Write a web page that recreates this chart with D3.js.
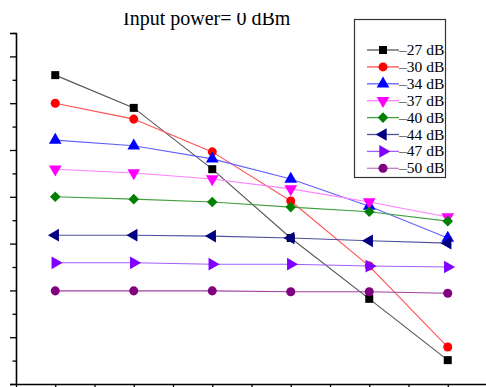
<!DOCTYPE html>
<html>
<head>
<meta charset="utf-8">
<script src="https://cdn.jsdelivr.net/npm/d3@7"></script>
<style>
  body { margin: 0; background: #fff; }
  svg { display: block; font-family: "Liberation Serif", "Times New Roman", serif; }
</style>
</head>
<body>
<svg></svg>
<script>
const size = { w: 486, h: 387 };
const svg = d3.select("svg").attr("width", size.w).attr("height", size.h);

// x positions (labels cut off in the picture)
const xValues = [1, 2, 3, 4, 5, 6];
const seriesNames = ["–27 dB", "–30 dB", "–34 dB", "–37 dB", "–40 dB", "–44 dB", "–47 dB", "–50 dB"];
const s27 = [6.60, 5.90, 4.59, 3.12, 1.82, 0.51];
const s30 = [6.00, 5.66, 4.96, 3.91, 2.52, 0.79];
const s34 = [5.21, 5.09, 4.81, 4.38, 3.80, 3.12];
const s37 = [4.59, 4.51, 4.38, 4.17, 3.89, 3.57];
const s40 = [4.00, 3.95, 3.89, 3.78, 3.68, 3.48];
const s44 = [3.18, 3.18, 3.16, 3.12, 3.06, 3.01];
const s47 = [2.59, 2.59, 2.56, 2.56, 2.52, 2.50];
const s50 = [1.99, 1.99, 1.99, 1.97, 1.97, 1.94];
const seriesValues = [s27, s30, s34, s37, s40, s44, s47, s50];

const markColors = ["#000000", "#ff0000", "#0000ff", "#ff00ff", "#008000", "#000080", "#8000ff", "#800080"];
const lineColors = ["#555555", "#ff5050", "#6060ff", "#ff80ff", "#40a040", "#5050a0", "#a060ff", "#a040a0"];
// [symbol type, rotation, area]
const symbols = [
  [d3.symbolSquare, 0, 64],
  [d3.symbolCircle, 0, 64],
  [d3.symbolTriangle, 0, 70],
  [d3.symbolTriangle, 180, 70],
  [d3.symbolSquare, 45, 56],
  [d3.symbolTriangle, -90, 70],
  [d3.symbolTriangle, 90, 70],
  [d3.symbolCircle, 0, 64]
];

const x = d3.scaleLinear().domain([0.5, 6.5]).range([16, 487]);
const y = d3.scaleLinear().domain([0, 7.5]).range([384, 33]);

// axes
const axG = svg.append("g");
axG.append("g")
  .attr("transform", "translate(16,0)")
  .call(d3.axisLeft(y).tickValues(d3.range(0, 7.6, 1)).tickSize(6).tickFormat(""))
  .call(g => g.select(".domain").attr("stroke-width", 1.6))
  .call(g => g.selectAll(".tick line").attr("stroke-width", 1.3));
axG.append("g")
  .attr("transform", "translate(16,0)")
  .call(d3.axisLeft(y).tickValues(d3.range(0.5, 7.6, 1)).tickSize(3.5).tickFormat(""))
  .call(g => g.select(".domain").remove())
  .call(g => g.selectAll(".tick line").attr("stroke-width", 1.3));
axG.append("g")
  .attr("transform", "translate(0,384)")
  .call(d3.axisBottom(x).tickValues(d3.range(0.5, 6.6, 0.5)).tickSize(6).tickSizeOuter(0).tickFormat(""))
  .call(g => g.select(".domain").attr("stroke-width", 1.6))
  .call(g => g.selectAll(".tick line").attr("stroke-width", 1.3));

// lines and markers
const line = d3.line().x((d, i) => x(xValues[i])).y(d => y(d));
seriesValues.forEach((vals, k) => {
  svg.append("path")
    .attr("d", line(vals))
    .attr("fill", "none")
    .attr("stroke", lineColors[k])
    .attr("stroke-width", 1.1);
});
seriesValues.forEach((vals, k) => {
  const [type, rot, area] = symbols[k];
  svg.append("g").selectAll("path")
    .data(vals)
    .enter()
    .append("path")
    .attr("d", d3.symbol().type(type).size(area))
    .attr("transform", (d, i) => `translate(${x(xValues[i])},${y(d)}) rotate(${rot})`)
    .attr("fill", markColors[k]);
});

// title (top clipped as in the picture)
svg.append("clipPath").attr("id", "tclip")
  .append("rect").attr("x", 0).attr("y", 13).attr("width", 350).attr("height", 30);
svg.append("text")
  .attr("x", 123).attr("y", 25)
  .attr("clip-path", "url(#tclip)")
  .attr("font-size", 20)
  .text("Input power= 0 dBm");

// legend
const lg = svg.append("g");
lg.append("rect")
  .attr("x", 354.5).attr("y", 19.5).attr("width", 91).attr("height", 158)
  .attr("fill", "#fff").attr("stroke", "#333").attr("stroke-width", 1.2);
seriesNames.forEach((name, k) => {
  const ly = 50 + k * 16.9;
  const [type, rot, area] = symbols[k];
  lg.append("line")
    .attr("x1", 367).attr("x2", 399).attr("y1", ly).attr("y2", ly)
    .attr("stroke", k === 7 ? "#c080c0" : lineColors[k]).attr("stroke-width", 1.3);
  lg.append("path")
    .attr("d", d3.symbol().type(type).size(area))
    .attr("transform", `translate(383,${ly}) rotate(${rot})`)
    .attr("fill", markColors[k]);
  lg.append("text")
    .attr("x", 399).attr("y", ly + 5)
    .attr("font-size", 15.5)
    .text(name);
});
</script>
</body>
</html>
